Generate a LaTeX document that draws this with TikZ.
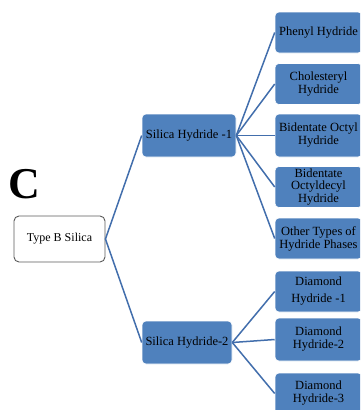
\documentclass[tikz,border=0pt]{standalone}
\usepackage{fontspec}
\setmainfont{Liberation Serif}
\definecolor{hbl}{RGB}{79,129,189}
\definecolor{hln}{RGB}{66,110,172}
\definecolor{rootbrd}{RGB}{90,90,90}

\begin{document}
\begin{tikzpicture}[
    x=1pt, y=-1pt,
    link/.style={draw=hln, line width=1.5pt},
    H/.style={rectangle, rounded corners=4pt, draw=white, line width=0.6pt, fill=hbl,
      minimum width=87pt, minimum height=41pt, inner sep=0pt, align=center,
      font=\fontsize{12.5}{13}\selectfont},
    R/.style={rectangle, rounded corners=5pt, draw=rootbrd, line width=0.9pt, fill=white,
      minimum width=91pt, minimum height=46pt, inner sep=0pt, align=center,
      font=\fontsize{12}{14}\selectfont},
    tag/.style={font=\fontsize{44}{44}\selectfont\bfseries},
  ]
  \useasboundingbox (0,0) rectangle (360,410);
  \clip (0,0) rectangle (360,410);

  %% ---------------- left: root and panel letter ----------------
  \node[tag] (lblC) at (24,184) {C};
  \node[R] (root) at (59.5,239) {Type B Silica};

  %% ---------------- middle: the two hydride groups ----------------
  \node[H, minimum width=94pt, minimum height=43pt] (sh1) at (189,135.5) {Silica Hydride -1};
  \node[H, minimum width=90pt, minimum height=43pt] (sh2) at (187,342.5) {Silica Hydride-2};

  %% ---------------- right: the phases ----------------
  \node[H] (phenyl) at (318.5,32.5) {Phenyl Hydride};
  \node[H] (chol) at (318.5,84) {Cholesteryl\\Hydride};
  \node[H, minimum height=43pt] (bioct) at (318.5,135.5) {Bidentate Octyl\\Hydride};
  \node[H, font=\fontsize{12.5}{12.5}\selectfont] (biodec) at (318.5,187) {Bidentate\\Octyldecyl\\Hydride};
  \node[H] (other) at (318.5,238.5) {Other Types of\\Hydride Phases};
  \node[H] (dia1) at (318.5,291.5) {Diamond\\[4pt]Hydride -1};
  \node[H, minimum height=43pt] (dia2) at (318.5,339.5) {Diamond\\Hydride-2};
  \node[H] (dia3) at (318.5,393.5) {Diamond\\Hydride-3};

  %% ---------------- connectors ----------------
  \foreach \c in {sh1,sh2} { \draw[link] (root.east) -- (\c.west); }
  \foreach \c in {phenyl,chol,bioct,biodec,other} { \draw[link] (sh1.east) -- (\c.west); }
  \foreach \c in {dia1,dia2,dia3} { \draw[link] (sh2.east) -- (\c.west); }

\end{tikzpicture}
\end{document}
